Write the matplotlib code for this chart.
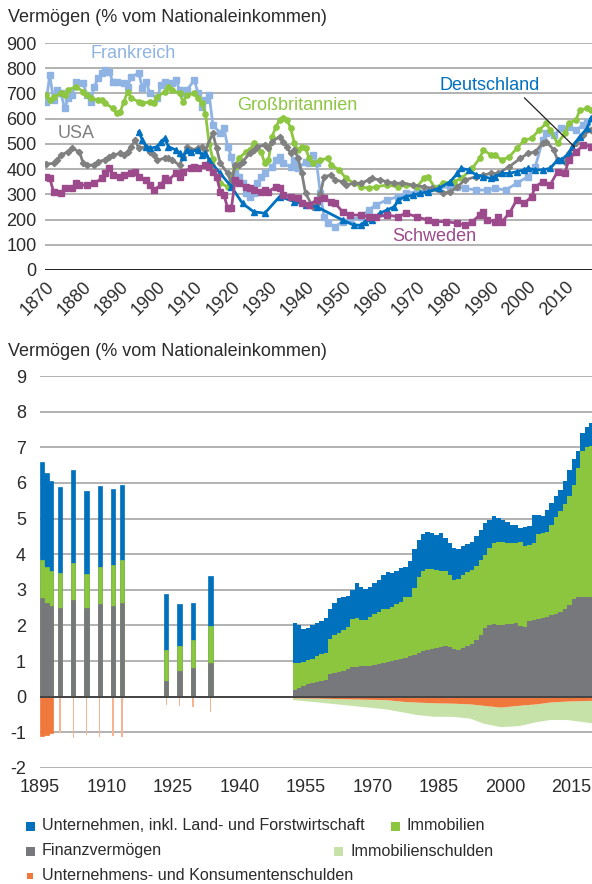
import matplotlib
matplotlib.use("Agg")
import numpy as np
import matplotlib.pyplot as plt
from matplotlib.patches import Rectangle

plt.rcParams['font.family'] = ['Liberation Sans', 'DejaVu Sans']
plt.rcParams['axes.unicode_minus'] = False

# ---------- top chart: wealth in % of national income ----------
fr_years = [1870, 1871, 1872, 1873, 1874, 1875, 1876, 1877, 1878, 1880, 1881, 1882, 1883, 1884, 1885,
            1886, 1887, 1888, 1889, 1891, 1892, 1893, 1895, 1896, 1897, 1898, 1900, 1901, 1902, 1904,
            1905, 1906, 1907, 1908, 1910, 1911, 1912, 1913, 1914, 1915, 1917, 1918, 1919, 1920, 1921,
            1922, 1923, 1924, 1925, 1926, 1927, 1928, 1929, 1931, 1932, 1933, 1934, 1936, 1937, 1938,
            1940, 1941, 1942, 1943, 1944, 1945, 1946, 1948, 1950, 1952, 1955, 1957, 1959, 1962, 1965,
            1967, 1970, 1973, 1975, 1979, 1981, 1983, 1986, 1989, 1991, 1994, 1997, 2000, 2002, 2004,
            2005, 2007, 2009, 2011, 2013, 2015, 2016]
fr_vals = [667, 773, 674, 714, 700, 641, 681, 694, 747, 740, 694, 667, 727, 760, 780,
           793, 786, 747, 747, 740, 727, 767, 780, 720, 747, 700, 681, 734, 747, 740,
           753, 714, 700, 714, 753, 700, 648, 674, 694, 575, 542, 562, 489, 449, 383,
           370, 344, 304, 291, 304, 344, 370, 383, 410, 436, 449, 423, 410, 436, 403,
           430, 423, 456, 423, 304, 211, 185, 172, 192, 198, 211, 238, 258, 278, 291,
           304, 310, 317, 324, 330, 330, 324, 317, 317, 324, 317, 344, 370, 410, 515,
           542, 535, 562, 568, 555, 575, 588]

gb_years = [1870, 1871, 1872, 1874, 1875, 1876, 1878, 1880, 1881, 1882, 1884, 1885, 1886, 1888, 1889,
            1890, 1891, 1892, 1893, 1895, 1896, 1898, 1899, 1900, 1902, 1903, 1904, 1906, 1907, 1908,
            1910, 1911, 1912, 1913, 1914, 1915, 1916, 1917, 1919, 1921, 1922, 1924, 1925, 1926, 1928,
            1929, 1930, 1931, 1932, 1933, 1934, 1935, 1936, 1937, 1938, 1939, 1940, 1941, 1942, 1944,
            1946, 1947, 1949, 1951, 1953, 1955, 1957, 1959, 1962, 1965, 1967, 1970, 1972, 1973, 1975,
            1977, 1980, 1982, 1985, 1987, 1988, 1990, 1991, 1993, 1995, 1997, 1999, 2001, 2003, 2005,
            2006, 2008, 2010, 2011, 2013, 2014, 2016, 2017]
gb_vals = [694, 674, 687, 700, 694, 714, 727, 707, 694, 681, 674, 674, 661, 641, 621,
           628, 667, 707, 681, 667, 661, 667, 661, 687, 707, 727, 714, 700, 667, 694,
           700, 681, 661, 620, 500, 440, 369, 345, 329, 410, 443, 469, 476, 502, 469,
           423, 436, 529, 568, 595, 601, 595, 562, 502, 476, 489, 482, 443, 423, 436,
           443, 416, 397, 363, 344, 330, 324, 330, 337, 330, 337, 330, 363, 370, 324,
           344, 350, 363, 403, 443, 476, 456, 456, 436, 449, 482, 515, 522, 555, 582,
           555, 502, 542, 582, 595, 634, 641, 634]

us_years = [1870, 1872, 1873, 1874, 1876, 1877, 1879, 1880, 1881, 1883, 1884, 1886, 1887, 1888, 1890,
            1891, 1892, 1893, 1894, 1895, 1897, 1898, 1899, 1900, 1902, 1903, 1904, 1906, 1907, 1908,
            1909, 1911, 1912, 1913, 1915, 1916, 1917, 1919, 1920, 1921, 1922, 1923, 1925, 1926, 1927,
            1929, 1930, 1931, 1933, 1934, 1935, 1936, 1937, 1938, 1939, 1940, 1942, 1943, 1944, 1945,
            1947, 1948, 1950, 1951, 1953, 1955, 1957, 1958, 1960, 1962, 1964, 1966, 1969, 1972, 1974,
            1977, 1979, 1981, 1983, 1986, 1988, 1990, 1992, 1995, 1998, 2000, 2002, 2004, 2005, 2007,
            2008, 2010, 2011, 2013, 2015, 2017]
us_vals = [420, 423, 436, 456, 469, 482, 469, 423, 416, 416, 430, 436, 449, 456, 462,
           456, 469, 489, 515, 482, 489, 469, 456, 436, 443, 443, 436, 416, 449, 489,
           476, 482, 489, 476, 542, 482, 423, 383, 344, 416, 416, 430, 462, 476, 489,
           496, 482, 509, 529, 509, 489, 462, 476, 443, 383, 304, 250, 260, 300, 370,
           377, 357, 350, 337, 344, 344, 357, 363, 357, 350, 344, 344, 337, 330, 324,
           304, 310, 330, 357, 370, 377, 383, 383, 410, 443, 462, 469, 502, 509, 476,
           436, 430, 462, 502, 535, 555]

de_years = [1895, 1896, 1897, 1898, 1900, 1901, 1902, 1903, 1905, 1906, 1907, 1908, 1909, 1911, 1912,
            1913, 1914, 1917, 1920, 1923, 1926, 1929, 1933, 1937, 1940, 1943, 1950, 1953, 1955, 1956,
            1958, 1960, 1962, 1964, 1965, 1967, 1969, 1971, 1973, 1976, 1979, 1981, 1982, 1984, 1986,
            1988, 1990, 1991, 1993, 1995, 1997, 1999, 2000, 2002, 2004, 2006, 2008, 2009, 2011, 2012,
            2014, 2016, 2017]
de_vals = [548, 515, 489, 482, 489, 509, 522, 489, 476, 462, 449, 476, 469, 476, 456,
           462, 436, 383, 330, 264, 231, 225, 291, 271, 258, 251, 198, 178, 178, 192,
           198, 225, 238, 251, 278, 291, 297, 304, 310, 324, 350, 383, 403, 397, 377,
           370, 363, 370, 383, 383, 390, 397, 403, 397, 397, 403, 436, 436, 462, 489,
           529, 562, 601]

se_years = [1870, 1871, 1872, 1874, 1875, 1877, 1878, 1879, 1881, 1883, 1885, 1886, 1887, 1888, 1890,
            1891, 1893, 1894, 1895, 1897, 1898, 1899, 1901, 1902, 1903, 1905, 1906, 1907, 1909, 1910,
            1911, 1913, 1914, 1915, 1916, 1917, 1918, 1919, 1920, 1921, 1922, 1924, 1925, 1926, 1928,
            1929, 1930, 1932, 1933, 1934, 1936, 1938, 1939, 1941, 1943, 1945, 1947, 1948, 1950, 1952,
            1955, 1957, 1959, 1962, 1965, 1967, 1970, 1973, 1975, 1978, 1981, 1983, 1985, 1987, 1988,
            1989, 1991, 1992, 1993, 1995, 1997, 1999, 2001, 2002, 2004, 2006, 2008, 2010, 2011, 2013,
            2015, 2017]
se_vals = [370, 363, 311, 304, 324, 324, 344, 337, 337, 344, 363, 383, 403, 377, 370,
           377, 383, 390, 370, 357, 337, 317, 337, 363, 357, 383, 370, 390, 403, 410,
           403, 416, 410, 390, 370, 311, 297, 245, 245, 357, 344, 330, 324, 317, 311,
           317, 311, 330, 324, 297, 291, 284, 264, 258, 278, 284, 271, 264, 231, 218,
           218, 211, 211, 218, 211, 225, 211, 198, 192, 192, 185, 178, 192, 218, 231,
           198, 192, 211, 192, 225, 278, 264, 291, 330, 350, 337, 390, 383, 436, 469,
           496, 489]

top_series = [
    ("Frankreich", fr_years, fr_vals, "#8fb4e3", "s"),
    ("Großbritannien", gb_years, gb_vals, "#8dc641", "o"),
    ("USA", us_years, us_vals, "#808080", "D"),
    ("Deutschland", de_years, de_vals, "#0070c0", "^"),
    ("Schweden", se_years, se_vals, "#9c4a8c", "s"),
]

# ---------- bottom chart: composition (multiples of national income) ----------
early_years = [1895, 1896, 1897, 1899, 1902, 1905, 1908, 1911, 1913, 1923, 1926, 1929, 1933]
early_fin = [2.78, 2.64, 2.55, 2.50, 2.71, 2.50, 2.59, 2.54, 2.64, 0.45, 0.72, 0.81, 0.95]
early_immo_top = [3.83, 3.63, 3.52, 3.46, 3.76, 3.44, 3.64, 3.69, 3.85, 1.31, 1.42, 1.59, 1.98]
early_total = [6.59, 6.27, 6.04, 5.89, 6.37, 5.78, 5.91, 5.83, 5.93, 2.87, 2.59, 2.62, 3.38]
early_debt = [-1.10, -1.07, -1.03, -1.03, -1.15, -1.07, -1.12, -1.10, -1.14, -0.23, -0.25, -0.30, -0.42]

late_years = list(range(1952, 2020))
late_fin = [0.20, 0.25, 0.31, 0.35, 0.38, 0.42, 0.44, 0.46, 0.63, 0.67, 0.69, 0.72, 0.78, 0.84, 0.84,
            0.85, 0.86, 0.87, 0.88, 0.91, 0.95, 0.97, 1.00, 1.02, 1.06, 1.10, 1.14, 1.18, 1.23, 1.27,
            1.31, 1.34, 1.38, 1.40, 1.42, 1.40, 1.34, 1.31, 1.36, 1.42, 1.49, 1.59, 1.73, 1.92, 2.00,
            2.04, 2.02, 2.02, 2.04, 2.04, 2.06, 1.98, 1.96, 2.13, 2.15, 2.18, 2.21, 2.24, 2.28, 2.32,
            2.38, 2.45, 2.57, 2.73, 2.81, 2.81, 2.81, 2.81]
late_immo_top = [0.95, 0.96, 0.98, 1.02, 1.07, 1.14, 1.21, 1.24, 1.61, 1.73, 1.79, 1.87, 1.96, 2.18, 2.20,
                 2.15, 2.15, 2.24, 2.32, 2.39, 2.45, 2.45, 2.53, 2.60, 2.67, 2.79, 2.79, 3.04, 3.37, 3.54,
                 3.58, 3.58, 3.56, 3.54, 3.54, 3.42, 3.28, 3.31, 3.42, 3.51, 3.56, 3.68, 3.84, 3.98, 4.17,
                 4.31, 4.33, 4.33, 4.31, 4.31, 4.31, 4.33, 4.23, 4.26, 4.31, 4.57, 4.59, 4.61, 4.83, 5.04,
                 5.20, 5.42, 5.62, 5.95, 6.42, 6.89, 7.01, 7.03]
late_total = [2.08, 2.01, 1.89, 1.94, 2.01, 2.08, 2.13, 2.20, 2.45, 2.62, 2.76, 2.81, 2.83, 3.00, 3.20,
              3.09, 3.03, 3.09, 3.18, 3.28, 3.42, 3.51, 3.48, 3.54, 3.61, 3.65, 3.82, 4.14, 4.40, 4.57,
              4.61, 4.59, 4.54, 4.59, 4.45, 4.31, 4.17, 4.14, 4.22, 4.29, 4.33, 4.50, 4.69, 4.87, 4.95,
              5.06, 5.01, 4.95, 4.89, 4.83, 4.82, 4.73, 4.76, 4.80, 5.10, 5.10, 5.08, 5.25, 5.44, 5.62,
              5.81, 6.06, 6.36, 6.66, 6.89, 7.41, 7.58, 7.67]

neg_years = [1952, 1958, 1965, 1973, 1977, 1980, 1984, 1988, 1992, 1995, 1999, 2003, 2007, 2010, 2014, 2020]
neg_business = [-0.03, -0.04, -0.06, -0.08, -0.13, -0.15, -0.17, -0.18, -0.20, -0.24, -0.29, -0.24, -0.20,
                -0.15, -0.12, -0.10]
neg_total = [-0.08, -0.15, -0.24, -0.34, -0.43, -0.50, -0.55, -0.55, -0.60, -0.74, -0.84, -0.81, -0.70,
             -0.64, -0.64, -0.74]

legend_labels = ["Unternehmen, inkl. Land- und Forstwirtschaft", "Immobilien", "Finanzvermögen",
                 "Immobilienschulden", "Unternehmens- und Konsumentenschulden"]

BLUE, GREEN, GRAY, LGREEN, ORANGE = "#0071bc", "#8cc63f", "#77787b", "#c7e2a8", "#f0783c"
TXT = "#2b2b2b"
GRID = "#a6a6a6"
FS = 13

W, H = 592, 884
fig = plt.figure(figsize=(W / 100, H / 100), dpi=100)


def px_axes(l, t, r, b):
    return fig.add_axes([l / W, 1 - b / H, (r - l) / W, (b - t) / H])


# ---- top chart ----
ax1 = px_axes(45, 43, 592, 270)
for name, yrs, vals, col, mk in top_series:
    ms = 3.8 if mk != "D" else 3.2
    ax1.plot(yrs, vals, color=col, lw=2.0, marker=mk, ms=ms, mec=col, mfc=col, zorder=3)

ax1.set_xlim(1869.7, 2017.3)
ax1.set_ylim(0, 900)
ax1.set_yticks(range(0, 901, 100))
ax1.set_xticks(range(1870, 2011, 10))
ax1.grid(axis="y", color=GRID, lw=1.2)
ax1.set_axisbelow(True)
ax1.axhline(0, color="#222222", lw=1.4, zorder=2)
for s in ax1.spines.values():
    s.set_visible(False)
ax1.tick_params(length=0, labelsize=FS, labelcolor=TXT, pad=6)
plt.setp(ax1.get_xticklabels(), rotation=45, ha="right", va="top", rotation_mode="anchor")

ax1.text(1881.9, 858, "Frankreich", color="#8fb4e3", fontsize=FS, va="center")
ax1.text(1921.5, 654, "Großbritannien", color="#8dc641", fontsize=FS, va="center")
ax1.text(1873.2, 543, "USA", color="#808080", fontsize=FS, va="center")
ax1.text(1976.2, 730, "Deutschland", color="#0070c0", fontsize=FS, va="center")
ax1.text(1963.5, 131, "Schweden", color="#9c4a8c", fontsize=FS, va="center")
ax1.plot([1999.1, 2012.6], [682, 488], color="#222222", lw=0.9, zorder=4)

fig.text(8 / W, 1 - 17 / H, "Vermögen (% vom Nationaleinkommen)", fontsize=FS, color=TXT, va="center")

# ---- bottom chart ----
ax2 = px_axes(40, 376, 592, 768)
# isolated early observations as bars
for vals, col in [(early_total, BLUE), (early_immo_top, GREEN), (early_fin, GRAY)]:
    ax2.bar(early_years, vals, width=1.0, align="edge", color=col, ec=col, lw=0.5, zorder=3)

ax2.bar(early_years[:3], early_debt[:3], width=1.0, align="edge", color=ORANGE, ec=ORANGE, lw=0.5,
        zorder=3)
ax2.bar([y + 0.35 for y in early_years[3:]], early_debt[3:], width=0.3, align="edge",
        color="#f7b38f", lw=0, zorder=3)

# continuous annual series as stepped areas (no seams between years)
step_x = late_years + [late_years[-1] + 1]
for vals, col in [(late_total, BLUE), (late_immo_top, GREEN), (late_fin, GRAY)]:
    ax2.fill_between(step_x, 0, vals + [vals[-1]], step="post", color=col, lw=0, zorder=3)

ax2.fill_between(neg_years, neg_business, neg_total, color=LGREEN, lw=0, zorder=3)
ax2.fill_between(neg_years, 0, neg_business, color=ORANGE, lw=0, zorder=3)

ax2.set_xlim(1895, 2019.6)
ax2.set_ylim(-2, 9)
ax2.set_yticks(range(-2, 10))
ax2.set_xticks(range(1895, 2016, 15))
ax2.grid(axis="y", color=GRID, lw=1.2)
ax2.set_axisbelow(True)
ax2.axhline(0, color="#444444", lw=1.4, zorder=4)
for s in ax2.spines.values():
    s.set_visible(False)
ax2.tick_params(length=0, labelsize=FS, labelcolor=TXT)
ax2.tick_params(axis="y", pad=10)
ax2.tick_params(axis="x", pad=8)

fig.text(8 / W, 1 - 352 / H, "Vermögen (% vom Nationaleinkommen)", fontsize=FS, color=TXT, va="center")

# ---- legend ----
legend_items = [
    (legend_labels[0], BLUE, 26, 826, 9),
    (legend_labels[1], GREEN, 391, 826, 9),
    (legend_labels[2], GRAY, 26, 851, 9),
    (legend_labels[3], LGREEN, 334, 851, 9),
    (legend_labels[4], ORANGE, 27, 876, 6),
]
for label, col, x, y, sz in legend_items:
    fig.add_artist(Rectangle((x / W, 1 - (y + sz / 2) / H), sz / W, sz / H,
                             transform=fig.transFigure, color=col, lw=0))
    fig.text((x + 16) / W if sz == 9 else (x + 15) / W, 1 - y / H, label, fontsize=11.6,
             color=TXT, va="center")

fig.savefig("out.png", dpi=100)
